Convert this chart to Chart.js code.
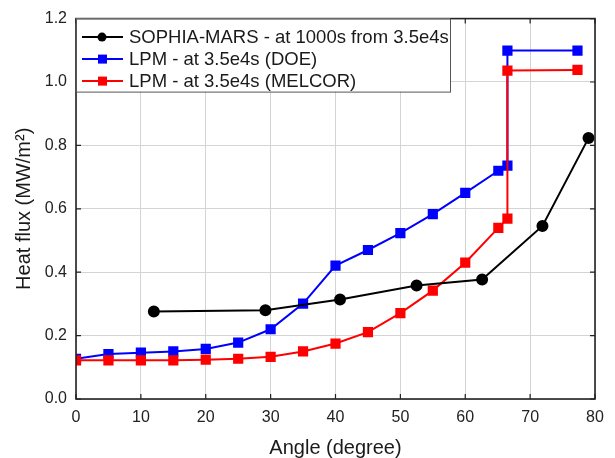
<!DOCTYPE html>
<html>
<head>
<meta charset="utf-8">
<script src="https://cdn.jsdelivr.net/npm/chart.js@4.4.0/dist/chart.umd.min.js"></script>
<style>
  html, body { margin: 0; padding: 0; background: #fff; }
  #wrap { width: 615px; height: 458px; }
</style>
</head>
<body>
<div id="wrap"><canvas id="fluxChart" width="615" height="458"></canvas></div>
<script>
// values
const sophiaAngle = [12.0, 29.2, 40.7, 52.5, 62.6, 71.9, 79.0];
const sophiaFlux  = [0.276, 0.280, 0.314, 0.358, 0.377, 0.546, 0.823];

const doeAngle = [0, 5, 10, 15, 20, 25, 30, 35, 40, 45, 50, 55, 60, 65.1, 66.5, 66.5, 77.3];
const doeFlux  = [0.127, 0.142, 0.146, 0.150, 0.158, 0.178, 0.220, 0.301, 0.421, 0.470, 0.523, 0.583, 0.650, 0.720, 0.736, 1.099, 1.099];

const melcorAngle = [0, 5, 10, 15, 20, 25, 30, 35, 40, 45, 50, 55, 60, 65.1, 66.5, 66.5, 77.3];
const melcorFlux  = [0.122, 0.122, 0.122, 0.122, 0.124, 0.127, 0.133, 0.150, 0.175, 0.211, 0.271, 0.342, 0.430, 0.540, 0.569, 1.036, 1.038];

const seriesNames = [
  "SOPHIA-MARS - at 1000s from 3.5e4s",
  "LPM - at 3.5e4s (DOE)",
  "LPM - at 3.5e4s (MELCOR)"
];

const xTicks = [0, 10, 20, 30, 40, 50, 60, 70, 80];
const yTicks = [0.0, 0.2, 0.4, 0.6, 0.8, 1.0, 1.2];

const FONT = "'Liberation Sans', Arial, sans-serif";

function pts(xs, ys) {
  return xs.map((x, i) => ({ x: x, y: ys[i] }));
}

// frame with inward ticks, like the original plot
const framePlugin = {
  id: "frame",
  afterDatasetsDraw(chart) {
    const ctx = chart.ctx;
    const a = chart.chartArea;
    const xs = chart.scales.x, ys = chart.scales.y;
    ctx.save();
    ctx.strokeStyle = "#222";
    ctx.lineWidth = 1.6;
    ctx.strokeRect(a.left, a.top, a.right - a.left, a.bottom - a.top);
    ctx.lineWidth = 1.2;
    ctx.beginPath();
    xTicks.forEach(t => {
      const px = xs.getPixelForValue(t);
      ctx.moveTo(px, a.bottom); ctx.lineTo(px, a.bottom - 5);
      ctx.moveTo(px, a.top); ctx.lineTo(px, a.top + 5);
    });
    yTicks.forEach(t => {
      const py = ys.getPixelForValue(t);
      ctx.moveTo(a.left, py); ctx.lineTo(a.left + 5, py);
      ctx.moveTo(a.right, py); ctx.lineTo(a.right - 5, py);
    });
    ctx.stroke();
    ctx.restore();
  }
};

// legend with line + marker samples
const legendPlugin = {
  id: "boxLegend",
  afterDraw(chart) {
    const ctx = chart.ctx;
    const a = chart.chartArea;
    const left = a.left, top = a.top, w = 374, h = 73;
    ctx.save();
    ctx.fillStyle = "#fff";
    ctx.fillRect(left, top, w, h);
    ctx.strokeStyle = "#555";
    ctx.lineWidth = 1;
    ctx.strokeRect(left + 0.5, top + 0.5, w, h);
    ctx.font = "18.5px " + FONT;
    ctx.textBaseline = "middle";
    chart.data.datasets.forEach((ds, i) => {
      const y = top + 18.5 + i * 22;
      ctx.strokeStyle = ds.borderColor;
      ctx.lineWidth = 2;
      ctx.beginPath();
      ctx.moveTo(left + 6, y); ctx.lineTo(left + 47, y);
      ctx.stroke();
      ctx.fillStyle = ds.borderColor;
      if (ds.pointStyle === "circle") {
        ctx.beginPath(); ctx.arc(left + 26, y, 4.5, 0, Math.PI * 2); ctx.fill();
      } else {
        ctx.fillRect(left + 22, y - 4.5, 9, 9);
      }
      ctx.fillStyle = "#1a1a1a";
      ctx.fillText(ds.label, left + 53, y + 1);
    });
    ctx.restore();
  }
};

new Chart(document.getElementById("fluxChart"), {
  type: "line",
  data: {
    datasets: [
      {
        label: seriesNames[0],
        data: pts(sophiaAngle, sophiaFlux),
        borderColor: "#000",
        backgroundColor: "#000",
        pointStyle: "circle",
        pointRadius: 5,
        borderWidth: 2,
        order: 0
      },
      {
        label: seriesNames[1],
        data: pts(doeAngle, doeFlux),
        borderColor: "#0000ff",
        backgroundColor: "#0000ff",
        pointStyle: "rect",
        pointRadius: 5.8,
        borderWidth: 2,
        order: 2
      },
      {
        label: seriesNames[2],
        data: pts(melcorAngle, melcorFlux),
        borderColor: "#ff0000",
        backgroundColor: "#ff0000",
        pointStyle: "rect",
        pointRadius: 5.8,
        borderWidth: 2,
        order: 1
      }
    ]
  },
  options: {
    responsive: false,
    animation: false,
    layout: { padding: { top: 18, right: 20, left: 0, bottom: 0 } },
    plugins: { legend: { display: false }, tooltip: { enabled: false } },
    elements: { line: { tension: 0 }, point: { borderWidth: 1 } },
    scales: {
      x: {
        type: "linear",
        min: 0, max: 80,
        afterBuildTicks(s) { s.ticks = xTicks.map(v => ({ value: v })); },
        afterFit(s) { s.height = 59; },
        grid: { color: "#d4d4d4", drawTicks: false, lineWidth: 1 },
        border: { display: false },
        ticks: { padding: 9, color: "#222", font: { family: FONT, size: 16 } },
        title: {
          display: true, text: "Angle (degree)", color: "#1a1a1a",
          font: { family: FONT, size: 20, lineHeight: 1 }, padding: 0
        }
      },
      y: {
        type: "linear",
        min: 0, max: 1.2,
        afterBuildTicks(s) { s.ticks = yTicks.map(v => ({ value: v })); },
        afterFit(s) { s.width = 76; },
        grid: { color: "#d4d4d4", drawTicks: false, lineWidth: 1 },
        border: { display: false },
        ticks: {
          padding: 9, color: "#222", font: { family: FONT, size: 16 },
          callback: v => v.toFixed(1)
        },
        title: {
          display: true, text: "Heat flux (MW/m\u00B2)", color: "#1a1a1a",
          font: { family: FONT, size: 20, lineHeight: 1 }, padding: { top: 14, bottom: 0 }
        }
      }
    }
  },
  plugins: [framePlugin, legendPlugin]
});
</script>
</body>
</html>
